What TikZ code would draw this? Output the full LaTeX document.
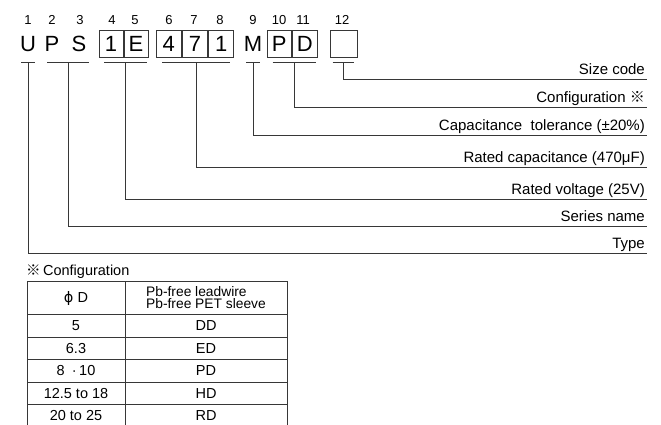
\documentclass[tikz,border=0pt]{standalone}
\usepackage{fontspec}
\setmainfont{Liberation Sans}
\newfontfamily\refmark{Noto Sans CJK JP}
\newfontfamily\symfont{DejaVu Sans}
\usetikzlibrary{positioning}
\definecolor{linegray}{RGB}{55,55,55}

\tikzset{
  cell/.style={draw=linegray,line width=1pt,inner sep=0pt,minimum height=27pt,
    text height=15.6pt,text depth=0pt,font=\fontsize{22}{26}\selectfont},
  letter/.style={cell,draw=none},
  posnum/.style={inner sep=0pt,text height=9.3pt,text depth=0pt,font=\fontsize{13}{15}\selectfont},
  lbl/.style={anchor=south east,inner xsep=2pt,inner ysep=4.5pt,text depth=0pt,
    font=\fontsize{15}{18}\selectfont},
  wire/.style={linegray,line width=1pt},
  tbl/.style={inner sep=0pt,text height=10pt,text depth=0pt,font=\fontsize{14.5}{16}\selectfont}
}

\begin{document}
\begin{tikzpicture}[x=1pt,y=-1pt]
\useasboundingbox (0,0) rectangle (661,424);
% code letters and boxes
\node[letter] (cU) at (28,44) {U};
\node[letter] (cP) at (52,44) {P};
\node[letter] (cS) at (79,44) {S};
\node[cell,minimum width=24pt] (c1) at (111,43.5) {1};
\node[cell,minimum width=24pt,right=0pt of c1] (cE) {E};
\node[cell,minimum width=25.3pt] (c4) at (168.7,43.5) {4};
\node[cell,minimum width=25.3pt,right=0pt of c4] (c7) {7};
\node[cell,minimum width=25.3pt,right=0pt of c7] (c1b) {1};
\node[letter] (cM) at (253,44) {M};
\node[cell,minimum width=24.5pt] (cP2) at (279.25,43.5) {P};
\node[cell,minimum width=24.5pt,right=0pt of cP2] (cD) {D};
\node[cell,minimum width=27pt] (cSize) at (343.5,43.5) {};
% position numbers
\foreach \t/\x in {1/28,2/52,3/80,4/112,5/135,6/169,7/194,8/220,9/253,10/279,11/303,12/342}
  \node[posnum] (n\t) at (\x,19.5) {\t};
% underlines
\foreach \nm/\x/\w in {U/28/7,PS/68/21,VE/125.5/21.5,CA/196/34,M/253/7,PD/294/21.5,SZ/343/10.5}{
  \coordinate (t\nm) at (\x,62);
  \draw[wire] ([xshift=-\w pt]t\nm) -- ([xshift=\w pt]t\nm);
}
% labels
\node[lbl] (lSize) at (647,79) {Size code};
\node[lbl] (lConf) at (647,107) {Configuration {\refmark ※}};
\node[lbl] (lTol) at (647,135) {Capacitance\ \ tolerance (±20\%)};
\node[lbl] (lCap) at (647,167) {Rated capacitance (470μF)};
\node[lbl] (lVolt) at (647,199) {Rated voltage (25V)};
\node[lbl] (lSer) at (647,226) {Series name};
\node[lbl] (lType) at (647,253) {Type};
\draw[wire] (tSZ) |- (lSize.south east);
\draw[wire] (tPD) |- (lConf.south east);
\draw[wire] (tM) |- (lTol.south east);
\draw[wire] (tCA) |- (lCap.south east);
\draw[wire] (tVE) |- (lVolt.south east);
\draw[wire] (tPS) |- (lSer.south east);
\draw[wire] (tU) |- (lType.south east);
% configuration table
\node[tbl,anchor=west] (cfgtitle) at (26,270) {{\refmark ※}\,Configuration};
\draw[wire] (27,426) -- (27,281) -- (287,281) -- (287,426);
\draw[wire] (125,281) -- (125,426);
\foreach \y in {314,337,359,382,404}
  \draw[wire] (27,\y) -- (287,\y);
\node[tbl] (hdia) at (76,297.5) {{\symfont ϕ} D};
\node[inner sep=0pt,align=left,font=\fontsize{13.8}{12.8}\selectfont] (hcode) at (206,297.5)
  {Pb-free leadwire\\Pb-free PET sleeve};
\foreach \d/\c [count=\i] in {5/DD,6.3/ED,{8\enspace·\,10}/PD,12.5 to 18/HD,20 to 25/RD}{
  \node[tbl] (d\i) at (76,{325.5+(\i-1)*22.5}) {\d};
  \node[tbl] (k\i) at (206,{325.5+(\i-1)*22.5}) {\c};
}
\end{tikzpicture}
\end{document}
